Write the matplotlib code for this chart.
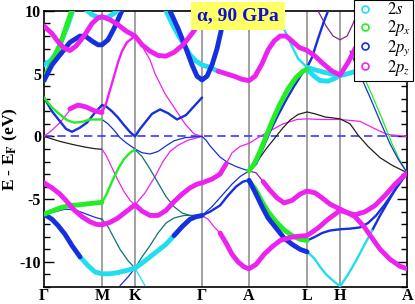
import numpy as np
import matplotlib
matplotlib.use("Agg")
import matplotlib.pyplot as plt
from matplotlib.lines import Line2D

plt.rcParams['font.family'] = ['Liberation Serif', 'DejaVu Serif']
plt.rcParams['mathtext.fontset'] = 'stix'

# high-symmetry points along the path (path-length units)
kpath = [44, 102, 135, 202, 249, 307, 340, 407]
klabels = ['Γ', 'M', 'K', 'Γ', 'A', 'L', 'H', 'A']

# band pieces, (k, E - E_F)
gm_green_up = [(44, 4.6), (52, 6.0), (60, 7.3), (66, 8.7), (72, 10.1)]
gm_cyan_up = [(44, 5.7), (50, 6.0), (56, 6.6), (62, 7.7), (68, 8.9), (73, 10.1)]
blue_up = [(44, 4.45), (52, 5.7), (60, 6.5), (70, 7.5), (80, 8.0), (86, 7.95), (92, 7.6),
           (98, 7.3), (102, 7.3), (108, 7.7), (114, 8.6), (119, 9.5), (123, 10.2)]
pz_top = [(44, 8.8), (52, 8.2), (58, 7.55), (64, 7.05), (70, 6.85), (76, 7.2), (84, 8.0),
          (92, 9.0), (98, 9.45), (102, 9.55), (110, 9.3), (118, 8.9), (126, 8.4), (135, 8.0),
          (142, 7.3), (150, 6.8), (158, 6.45), (166, 6.4), (174, 6.7), (183, 7.3), (190, 8.0),
          (197, 8.75), (202, 9.3)]
s_top_m = [(86, 10.1), (92, 9.7), (98, 9.5), (102, 9.45), (108, 9.5), (114, 9.8), (120, 10.2)]

blue_low = [(44, 3.1), (52, 2.0), (60, 1.2), (66, 0.6), (72, 0.37), (80, 0.7), (87, 1.1),
            (95, 1.9), (102, 2.5), (106, 2.4), (112, 2.0), (118, 1.5), (124, 0.9), (130, 0.35),
            (135, 0.0), (140, 0.6), (145, 1.1), (152, 1.8), (160, 2.15), (168, 1.85),
            (177, 1.35), (186, 1.7), (194, 2.4), (202, 3.1)]
green_low = [(44, 3.1), (52, 2.3), (60, 1.75), (67, 1.3), (74, 1.1), (82, 1.15), (90, 1.35),
             (102, 1.35)]
mk_blue_low = [(102, 1.35), (108, 1.0), (114, 0.5), (120, -0.1), (126, -0.5), (135, -1.0),
               (142, -1.3), (150, -1.4), (158, -1.2), (166, -0.75), (174, -0.35),
               (185, -0.1), (202, 0.0)]
ga_blue_arc = [(202, 0.0), (206, -0.3), (210, -0.75), (215, -1.2), (220, -1.65), (228, -2.1),
               (236, -2.4), (243, -2.6), (249, -2.75)]

pz_mid_a = [(44, 0.0), (52, 0.5), (60, 1.1), (66, 1.7), (72, 2.3)]
pz_mid_b = [(70, 2.2), (78, 2.5), (86, 2.35), (94, 2.05), (102, 1.9)]
pz_mid_c = [(102, 1.9), (106, 2.6), (110, 3.7), (114, 4.8), (118, 5.9), (122, 6.8),
            (127, 7.5), (135, 8.0)]
pz_mid_d = [(135, 8.0), (142, 7.2), (150, 6.1), (155, 5.0), (165, 3.4), (175, 2.2),
            (185, 1.0), (194, 0.2), (202, 0.0)]

black_gm = [(44, 0.0), (50, -0.15), (60, -0.4), (73, -0.65), (85, -0.85), (95, -0.98),
            (102, -1.03)]
pz_mk_thin = [(102, -1.03), (106, -1.5), (112, -2.5), (118, -3.5), (124, -4.4), (130, -5.1),
              (135, -5.45), (145, -4.5), (155, -3.2), (163, -2.0), (170, -1.2), (178, -0.7),
              (188, -0.3), (202, 0.0)]

px_low = [(44, -6.2), (52, -5.95), (60, -5.7), (70, -5.5), (80, -5.45), (90, -5.35),
          (102, -5.25)]
px_mk = [(102, -5.25), (106, -4.7), (112, -3.6), (118, -2.6), (124, -1.8), (130, -1.3),
         (135, -1.05)]
kg_teal_a = [(135, -1.05), (142, -1.6), (150, -2.6), (158, -3.7), (166, -4.8), (174, -5.6),
             (182, -6.1), (190, -6.3), (202, -6.3)]

pz_low = [(44, -3.7), (52, -4.1), (60, -4.6), (67, -5.2), (74, -5.85), (82, -6.4), (90, -6.8),
          (96, -7.0), (102, -7.05), (110, -6.85), (118, -6.5), (126, -6.0), (135, -5.45),
          (142, -5.95), (150, -6.3), (158, -6.3), (166, -5.9), (174, -5.2), (182, -4.6),
          (190, -4.1), (197, -3.8), (202, -3.7), (212, -3.4), (220, -3.0), (226, -2.2)]
pz_low_thin = [(226, -2.2), (232, -1.3), (240, -0.8), (249, -0.55), (260, 0.0), (270, 0.45),
               (283, 1.0), (297, 1.35), (307, 1.4), (320, 1.35), (340, 1.35), (360, 1.2),
               (375, 0.6), (387, 0.16), (407, 0.0)]

py_mid = [(44, -6.2), (55, -6.0), (65, -5.8), (75, -5.85), (85, -6.15), (95, -6.45),
          (102, -6.6)]
teal_mk = [(102, -6.6), (108, -7.2), (114, -8.1), (120, -9.0), (128, -9.9), (135, -10.5),
           (142, -9.6), (150, -8.7), (158, -7.7), (166, -6.9), (174, -6.5), (184, -6.3),
           (202, -6.3)]

s_low_a = [(44, -6.2), (52, -6.6), (58, -7.1), (65, -7.8), (72, -8.7), (80, -9.6)]
s_low_b = [(80, -9.6), (88, -10.3), (95, -10.8), (102, -10.95), (110, -10.95), (118, -10.85),
           (126, -10.7), (135, -10.5), (142, -10.1), (150, -9.6), (158, -9.1), (166, -8.6),
           (174, -7.9)]
s_low_c = [(174, -7.9), (182, -7.2), (190, -6.6), (196, -6.4), (202, -6.3)]
k_cross_y = [(120, -11.9), (128, -11.2), (135, -10.5)]
k_cross_s = [(135, -10.5), (140, -11.2), (145, -11.9)]

kg_cyan = [(166, 10.0), (172, 9.0), (178, 8.1), (184, 7.3), (190, 6.5), (196, 6.0),
           (202, 5.7), (210, 5.5), (218, 5.2)]
pz_al = [(218, 5.2), (226, 5.0), (234, 4.8), (242, 4.55), (249, 4.45), (255, 4.8), (262, 5.8),
         (268, 6.9), (274, 7.6), (280, 8.0), (286, 8.0), (292, 7.6), (299, 7.1), (307, 6.85),
         (315, 6.4), (323, 5.8), (332, 5.2), (340, 4.9)]
pz_ha = [(340, 4.9), (348, 5.9), (355, 7.0), (362, 7.8), (370, 8.3), (380, 8.2), (390, 7.0),
         (396, 5.8), (401, 4.9), (407, 4.45)]
kg_blue_parab = [(170, 10.0), (178, 8.6), (186, 7.0), (192, 5.7), (197, 4.8), (202, 4.5),
                 (207, 4.8), (212, 5.7), (217, 7.0), (221, 8.4), (224, 10.0)]

ga_blue2 = [(202, -6.3), (210, -6.0), (220, -5.5), (228, -4.7), (236, -4.0), (243, -3.6),
            (249, -3.5)]
al_blue_low = [(249, -3.5), (256, -4.6), (262, -5.6), (268, -6.5), (276, -7.3), (284, -8.1),
               (292, -8.6), (300, -9.0), (307, -9.2)]
lh_cyan_low = [(307, -9.2), (314, -9.7), (320, -10.4), (326, -11.0), (333, -11.5),
               (340, -11.95), (348, -11.0), (356, -9.9), (364, -8.7), (372, -7.5)]
ha_blue_low = [(372, -7.5), (380, -6.3), (388, -5.2), (396, -4.1), (407, -2.9)]
ga_blue3 = [(202, -6.3), (212, -5.6), (222, -4.7), (232, -3.8), (240, -3.2), (249, -2.75)]

pz_bottom_thin = [(202, -6.3), (208, -6.6), (214, -7.2), (220, -7.7)]
pz_bottom = [(220, -7.7), (226, -8.5), (232, -9.4), (238, -10.0), (244, -10.4), (249, -10.55),
             (256, -10.2), (264, -9.4), (272, -8.8), (280, -8.3), (290, -8.05), (300, -7.95),
             (307, -7.9), (318, -7.3), (328, -6.6), (340, -5.9), (348, -6.1), (355, -6.25),
             (365, -6.0), (375, -5.5), (385, -4.7), (395, -3.8), (407, -2.9)]

al_green = [(249, -3.55), (256, -4.3), (262, -5.2), (268, -6.0), (276, -6.8), (284, -7.45),
            (292, -7.9), (300, -8.2), (307, -8.3)]
lh_blue = [(307, -8.3), (315, -8.0), (322, -7.7), (330, -7.5), (340, -7.4), (350, -7.35),
           (360, -7.25), (368, -6.9), (376, -6.3), (384, -5.5), (392, -4.6), (400, -3.7),
           (407, -2.9)]

pz_al_thin = [(249, -2.75), (256, -2.9), (263, -3.6)]
pz_al_fat = [(263, -3.6), (270, -4.3), (277, -4.9), (284, -5.3), (292, -5.1), (300, -4.6),
             (307, -4.35), (315, -4.5), (322, -4.9), (330, -5.4), (340, -5.8), (348, -6.1),
             (355, -6.4), (364, -7.2), (372, -8.1), (380, -9.0), (390, -9.8), (400, -10.35),
             (407, -10.55)]

black_al = [(249, -2.75), (258, -1.9), (266, -1.0), (274, -0.2), (282, 0.6), (290, 1.3),
            (298, 1.75), (307, 1.95), (315, 1.8), (325, 1.55), (340, 1.4), (350, 1.0),
            (358, 0.1), (368, -0.8), (380, -1.7), (392, -2.3), (407, -2.9)]
al_blue_up = [(249, -2.75), (256, -2.2), (262, -1.1), (270, 0.4), (278, 1.7), (286, 2.9),
              (294, 4.0), (302, 5.0), (307, 5.5), (312, 6.3), (318, 7.8), (324, 9.2),
              (329, 10.2)]
al_green_up = [(249, -2.75), (254, -2.2), (260, -1.2), (266, 0.0), (272, 1.2), (280, 2.6),
               (288, 3.8), (296, 4.7), (303, 5.2), (307, 5.35)]
lh_cyan_a = [(307, 5.35), (314, 4.8), (320, 4.45), (328, 4.4), (334, 4.6), (340, 4.85)]
al_cyan = [(276, 9.8), (282, 8.9), (290, 7.5), (298, 6.2), (307, 5.5)]
lh_cyan_b = [(307, 5.5), (315, 5.3), (325, 5.1), (333, 4.95), (340, 4.85), (348, 5.0),
             (356, 5.2)]
h_black_u = [(318, 10.0), (326, 8.8), (333, 8.0), (340, 7.7), (347, 8.0), (353, 9.0),
             (358, 10.0)]
ha_blue_steep = [(350, 6.8), (360, 4.9), (370, 3.1), (380, 1.2), (390, -0.6), (398, -1.8),
                 (407, -2.9)]
ha_green_steep = [(353, 6.8), (363, 4.9), (373, 3.1), (383, 1.2), (392, -0.6), (399, -1.8),
                  (407, -2.9)]

orb_colors = {'s': '#22ddee', 'x': '#22ee22', 'y': '#1530dd', 'z': '#ee22ee',
              'k': '#202020', 't': '#107070', 'p': '#902090'}
widths = {'fat': 3.5, 'med': 1.7, 'thin': 0.9}

thin_pieces = [
    (black_gm, 'k'), (pz_mid_a, 'z'), (pz_mid_d, 'z'), (pz_mk_thin, 'z'),
    (mk_blue_low, 'y'), (ga_blue_arc, 'y'), (kg_teal_a, 't'),
    (py_mid, 'y'), (teal_mk, 't'), (k_cross_y, 'y'), (k_cross_s, 's'),
    (ga_blue3, 'y'), (pz_bottom_thin, 'z'), (pz_low_thin, 'z'), (pz_al_thin, 'p'),
    (black_al, 'k'), (h_black_u, 'p'), (ha_green_steep, 'x'), (ha_blue_steep, 'y'),
]
med_pieces = [
    (blue_low, 'y'), (green_low, 'x'), (pz_mid_c, 'z'), (px_mk, 'x'), (ga_blue2, 'y'),
    (al_blue_up, 'y'), (al_cyan, 's'), (lh_blue, 'y'), (ha_blue_low, 'y'), (lh_cyan_low, 's'),
]
fat_pieces = [
    (s_low_b, 's'), (s_low_a, 'y'), (s_low_c, 'y'), (px_low, 'x'), (al_green, 'x'),
    (al_blue_low, 'y'), (gm_cyan_up, 's'), (gm_green_up, 'x'), (blue_up, 'y'),
    (s_top_m, 's'), (kg_cyan, 's'), (lh_cyan_a, 's'), (lh_cyan_b, 's'),
    (kg_blue_parab, 'y'), (al_green_up, 'x'), (pz_top, 'z'), (pz_mid_b, 'z'),
    (pz_low, 'z'), (pz_bottom, 'z'), (pz_al_fat, 'z'), (pz_al, 'z'), (pz_ha, 'z'),
]

fig = plt.figure(figsize=(4.15, 3.04), dpi=100)
ax = fig.add_axes([0.106, 0.056, 0.875, 0.908])

for kx in kpath[1:-1]:
    ax.axvline(kx, color='#9a9a9a', lw=1.3, zorder=1)
ax.axhline(0, color='#3a3aff', lw=1.2, ls=(0, (5, 3)), zorder=2)

for group, w in ((thin_pieces, 'thin'), (med_pieces, 'med'), (fat_pieces, 'fat')):
    for piece, orb in group:
        k, e = np.array(piece).T
        ax.plot(k, e, color=orb_colors[orb], lw=widths[w], solid_capstyle='round',
                solid_joinstyle='round', zorder=3)

ax.set_xlim(kpath[0], kpath[-1])
ax.set_ylim(-12, 10)
ax.set_xticks(kpath)
ax.set_xticklabels(klabels, fontsize=11.5, fontweight='bold')
ax.set_yticks([-10, -5, 0, 5, 10])
ax.set_yticklabels(['-10', '-5', '0', '5', '10'], fontsize=11.5, fontweight='bold')
ax.set_yticks(np.arange(-12, 11, 1), minor=True)
ax.tick_params(axis='y', which='major', direction='in', length=7, right=True, width=1,
               pad=2)
ax.tick_params(axis='y', which='minor', direction='in', length=4, right=True, width=1)
ax.tick_params(axis='x', length=0, pad=1)
ax.set_ylabel('E - E$_\\mathbf{F}$ (eV)', fontsize=12.5, fontweight='bold', labelpad=0)
for sp in ax.spines.values():
    sp.set_linewidth(1.2)

ax.text(0.534, 0.982, 'α, 90 GPa', transform=ax.transAxes, ha='center', va='center',
        fontsize=14, fontweight='bold', color='#1010cc', zorder=6,
        bbox=dict(boxstyle='square,pad=0.3', fc='#ffff66', ec='none'))

handles = [Line2D([], [], ls='none', marker='o', mfc='none', mec=orb_colors[o], mew=1.2, ms=5)
           for o in ('s', 'x', 'y', 'z')]
leg = ax.legend(handles, ['$2s$', '$2p_x$', '$2p_y$', '$2p_z$'], loc='upper right',
                bbox_to_anchor=(1.017, 1.04), fontsize=12, frameon=True, fancybox=False,
                framealpha=1, edgecolor='black', handletextpad=0.8, labelspacing=0.0,
                borderpad=0.15, handlelength=1.0, borderaxespad=0)
leg.get_frame().set_linewidth(0.8)
leg.set_zorder(7)

fig.savefig('out.png', dpi=100)
